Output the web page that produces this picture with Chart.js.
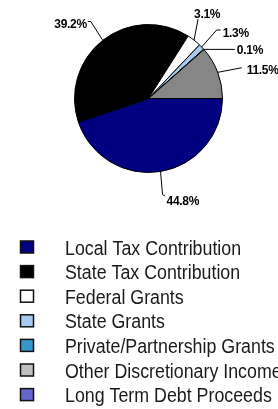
<!DOCTYPE html>
<html><head><meta charset="utf-8">
<script src="https://cdn.jsdelivr.net/npm/chart.js@4"></script>
<style>html,body{margin:0;padding:0;background:#fff;overflow:hidden}#wrap{position:relative;width:278px;height:409px}</style>
</head><body><div id="wrap"><canvas id="c" width="278" height="409"></canvas></div>
<script>
const categories = ["Local Tax Contribution","State Tax Contribution","Federal Grants","State Grants","Private/Partnership Grants","Other Discretionary Income","Long Term Debt Proceeds"];
const shares = [44.8, 39.2, 3.1, 1.3, 0.1, 11.5, 0];
const valueLabels = ["44.8%","39.2%","3.1%","1.3%","0.1%","11.5%",""];
const sliceColors = ["#000080","#000000","#ffffff","#a6caf0","#3399cc","#868686","#6666cc"];
const legendColors = ["#000080","#000000","#ffffff","#a6caf0","#3399cc","#c0c0c0","#6666cc"];

// leader-line geometry (styling): elbow offset from slice edge, end offset, text offset from end
const leaders = [
  {elbow:[2,23], end:[4.5,24.5], text:[1.5,8.5], align:"left"},
  {elbow:[-12,-18.8], end:[-15,-18.8], text:[-1,6], align:"right"},
  {elbow:[4,-21], end:[4,-21], text:[-4,-1], align:"left"},
  {elbow:[15,-17], end:[19,-17], text:[2,7], align:"left"},
  {elbow:[31,0], end:[31,0], text:[2,4.6], align:"left"},
  {elbow:[24,-4.6], end:[24,-4.6], text:[5,6.3], align:"left"}
];

const leaderPlugin = {
  id:"leaders",
  afterDatasetsDraw(chart){
    const ctx = chart.ctx;
    const meta = chart.getDatasetMeta(0);
    ctx.save();
    ctx.strokeStyle="#000"; ctx.lineWidth=1;
    ctx.fillStyle="#000";
    ctx.font="bold 12px 'Liberation Sans', Arial, sans-serif";
    try{ ctx.letterSpacing="-0.3px"; }catch(e){}
    ctx.textBaseline="alphabetic";
    meta.data.forEach((arc,i)=>{
      const L = leaders[i]; if(!L || !valueLabels[i]) return;
      const p = arc.getProps(["x","y","startAngle","endAngle","outerRadius"],true);
      const mid = (p.startAngle+p.endAngle)/2;
      const ex = p.x + Math.cos(mid)*p.outerRadius;
      const ey = p.y + Math.sin(mid)*p.outerRadius;
      const bx = ex+L.elbow[0], by = ey+L.elbow[1];
      const nx = ex+L.end[0], ny = ey+L.end[1];
      ctx.beginPath(); ctx.moveTo(ex,ey); ctx.lineTo(bx,by); ctx.lineTo(nx,ny); ctx.stroke();
      ctx.textAlign = L.align;
      ctx.fillText(valueLabels[i], nx+L.text[0], ny+L.text[1]);
    });
    ctx.restore();
  },
  afterDraw(chart){
    const ctx = chart.ctx;
    ctx.save();
    ctx.textBaseline="alphabetic"; ctx.textAlign="left";
    categories.forEach((name,i)=>{
      const y = 248 + i*24.6;
      ctx.fillStyle = legendColors[i];
      ctx.fillRect(20.5, y-7, 13, 12);
      ctx.strokeStyle="#111"; ctx.lineWidth=1.5;
      ctx.strokeRect(20.5, y-7, 13, 12);
      ctx.save();
      ctx.translate(65, y+6.5);
      ctx.scale(0.89, 1);
      ctx.font="20px 'Liberation Sans', Arial, sans-serif";
      ctx.fillStyle="#1a1a1a";
      ctx.fillText(name, 0, 0);
      ctx.restore();
    });
    ctx.restore();
  }
};

new Chart(document.getElementById("c"),{
  type:"pie",
  data:{labels:categories, datasets:[{data:shares, backgroundColor:sliceColors, borderColor:"#000", borderWidth:1}]},
  options:{
    responsive:false, animation:false, rotation:90,
    layout:{padding:{left:74,right:55,top:24,bottom:236}},
    plugins:{legend:{display:false}, tooltip:{enabled:false}}
  },
  plugins:[leaderPlugin]
});
</script></body></html>
